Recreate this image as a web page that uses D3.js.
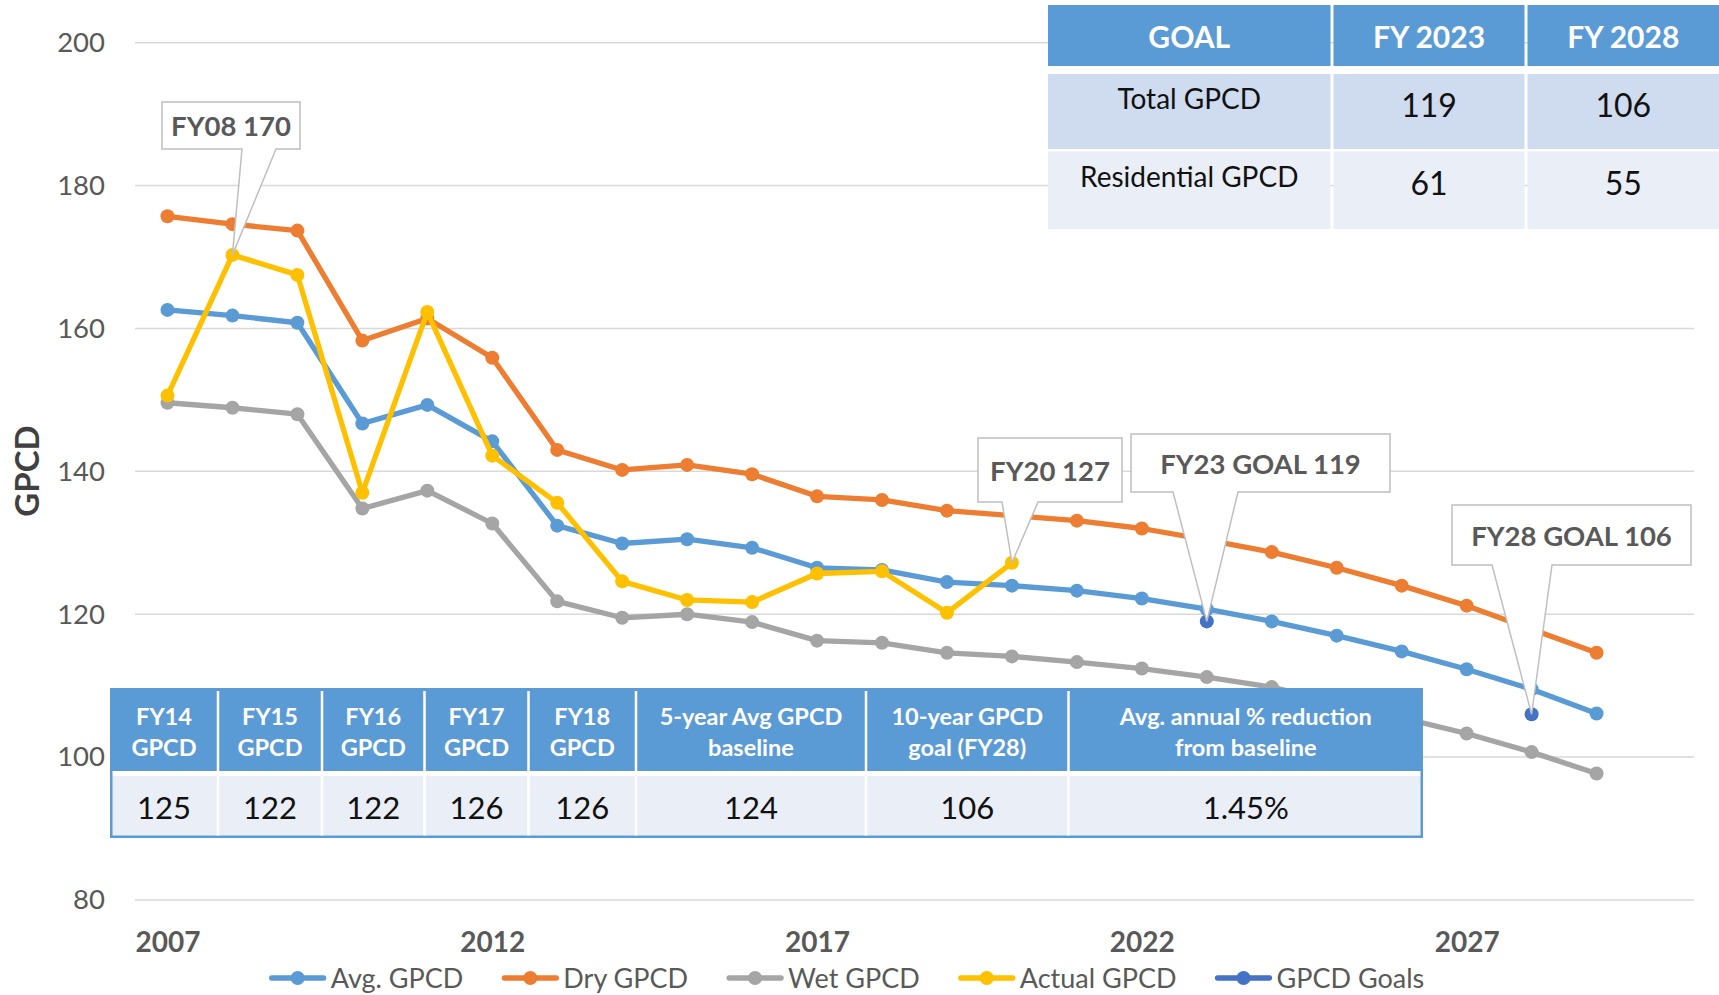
<!DOCTYPE html>
<html>
<head>
<meta charset="utf-8">
<script src="https://cdn.jsdelivr.net/npm/d3@7"></script>
<style>
  body { margin: 0; background: #fff; }
  svg { display: block; font-family: Lato, 'Open Sans', sans-serif; }
</style>
</head>
<body>
<svg id="chart" width="1719" height="995"></svg>
<script>
//
// Data
//

// categories (2030 is an empty slot at the end of the axis)
var years = d3.range(2007, 2031)
var xLabels = [2007, 2012, 2017, 2022, 2027]
var yTicks = [80, 100, 120, 140, 160, 180, 200]

// series, one value per year from 2007
var avgGpcd = [162.6, 161.8, 160.8, 146.7, 149.3, 144.2, 132.4, 129.9, 130.5, 129.3, 126.5, 126.2,
  124.5, 124.0, 123.3, 122.2, 120.7, 119.0, 117.0, 114.8, 112.3, 109.5, 106.1]
var dryGpcd = [175.7, 174.6, 173.7, 158.3, 161.4, 155.9, 143.0, 140.2, 140.9, 139.6, 136.5, 136.0,
  134.5, 133.8, 133.1, 132.0, 130.4, 128.7, 126.5, 124.0, 121.2, 117.9, 114.6]
var wetGpcd = [149.6, 148.9, 148.0, 134.8, 137.3, 132.7, 121.8, 119.5, 120.0, 118.9, 116.3, 116.0,
  114.6, 114.1, 113.3, 112.4, 111.2, 109.8, 107.6, 105.5, 103.3, 100.7, 97.7]
var actualGpcd = [150.6, 170.3, 167.5, 137.0, 162.3, 142.2, 135.6, 124.6, 122.0, 121.7, 125.7, 126.0,
  120.2, 127.2]
var goalYears = [2023, 2028]
var goalValues = [119, 106]

var seriesNames = ['Avg. GPCD', 'Dry GPCD', 'Wet GPCD', 'Actual GPCD', 'GPCD Goals']
var seriesColors = ['#5b9bd5', '#ed7d31', '#a5a5a5', '#ffc000', '#4472c4']

// callouts
var calloutLabels = ['FY08 170', 'FY20 127', 'FY23 GOAL 119', 'FY28 GOAL 106']
var calloutYears = [2008, 2020, 2023, 2028]
var calloutValues = [170.3, 127.2, 119, 106]

// goal table (top right)
var goalHead = ['GOAL', 'FY 2023', 'FY 2028']
var goalRows = [['Total GPCD', '119', '106'], ['Residential GPCD', '61', '55']]

// baseline table (bottom)
var baseHead = [['FY14', 'GPCD'], ['FY15', 'GPCD'], ['FY16', 'GPCD'], ['FY17', 'GPCD'], ['FY18', 'GPCD'],
  ['5-year Avg GPCD', 'baseline'], ['10-year GPCD', 'goal (FY28)'], ['Avg. annual % reduction', 'from baseline']]
var baseValues = ['125', '122', '122', '126', '126', '124', '106', '1.45%']

//
// Layout
//

var plot = { left: 135, right: 1694, top: 42.7, bottom: 900 }
var textGray = '#595959'
var gridColor = '#d9d9d9'
var headBlue = '#5b9bd5'
var lineWidth = 5.3
var markerR = 7

// callout boxes: [x0, y0, x1, y1, wedge left, wedge right]
var calloutBoxes = [
  [162, 102, 300, 149, 242, 276],
  [978, 438, 1122, 502, 1002, 1038],
  [1131, 434, 1390, 492, 1173, 1238],
  [1452, 505, 1691, 565, 1492, 1552]
]

var goalCols = [1048, 1332, 1526, 1722]
var goalRowEdges = [[5, 66], [74, 149], [151.5, 229]]

var baseCols = [110, 218, 322, 424.5, 528.5, 636, 866, 1068.5, 1423]
var baseTop = 688, baseHeadBottom = 771, baseBodyTop = 776, baseBottom = 838

//
// Scales
//

var svg = d3.select('#chart')

var x = d3.scalePoint().domain(years).range([plot.left, plot.right]).padding(0.5)
var y = d3.scaleLinear().domain([80, 200]).range([plot.bottom, plot.top])

function toPoints(values) {
  return values.map(function (v, i) { return { year: years[i], v: v } })
}

var series = [
  toPoints(avgGpcd),
  toPoints(dryGpcd),
  toPoints(wetGpcd),
  toPoints(actualGpcd),
  goalYears.map(function (yr, i) { return { year: yr, v: goalValues[i] } })
]

//
// Grid
//

svg.append('g')
  .selectAll('line')
  .data(yTicks)
  .join('line')
  .attr('x1', plot.left)
  .attr('x2', plot.right)
  .attr('y1', function (d) { return y(d) })
  .attr('y2', function (d) { return y(d) })
  .attr('stroke', gridColor)
  .attr('stroke-width', 1.5)

//
// Series
//

var line = d3.line()
  .defined(function (d) { return d.v != null })
  .x(function (d) { return x(d.year) })
  .y(function (d) { return y(d.v) })

series.forEach(function (pts, i) {
  var g = svg.append('g')
  if (i < 4) {
    g.append('path')
      .attr('d', line(pts))
      .attr('fill', 'none')
      .attr('stroke', seriesColors[i])
      .attr('stroke-width', lineWidth)
      .attr('stroke-linejoin', 'round')
  }
  g.selectAll('circle')
    .data(pts)
    .join('circle')
    .attr('cx', function (d) { return x(d.year) })
    .attr('cy', function (d) { return y(d.v) })
    .attr('r', markerR)
    .attr('fill', seriesColors[i])
})

//
// Callouts
//

calloutLabels.forEach(function (label, i) {
  var b = calloutBoxes[i]
  var tx = x(calloutYears[i]), ty = y(calloutValues[i])
  var d = 'M' + b[0] + ',' + b[1] + 'H' + b[2] + 'V' + b[3] + 'H' + b[5] +
    'L' + tx + ',' + ty + 'L' + b[4] + ',' + b[3] + 'H' + b[0] + 'Z'
  svg.append('path')
    .attr('d', d)
    .attr('fill', '#fff')
    .attr('stroke', '#bfbfbf')
    .attr('stroke-width', 1.5)
  svg.append('text')
    .attr('x', (b[0] + b[2]) / 2)
    .attr('y', (b[1] + b[3]) / 2 + 1)
    .attr('dy', '0.36em')
    .attr('text-anchor', 'middle')
    .attr('font-size', 27.5)
    .attr('font-weight', 700)
    .attr('fill', textGray)
    .text(label)
})

//
// Goal table
//

var goalG = svg.append('g')
goalRowEdges.forEach(function (r, ri) {
  goalHead.forEach(function (h, ci) {
    var x0 = goalCols[ci] + (ci ? 1.5 : 0), x1 = goalCols[ci + 1] - 1.5
    goalG.append('rect')
      .attr('x', x0).attr('y', r[0])
      .attr('width', x1 - x0).attr('height', r[1] - r[0])
      .attr('fill', ri === 0 ? headBlue : (ri === 1 ? '#cfdbee' : '#e9eef7'))
    var txt = ri === 0 ? h : goalRows[ri - 1][ci]
    var isNum = ri > 0 && ci > 0
    goalG.append('text')
      .attr('x', (x0 + Math.min(x1, 1719)) / 2)
      .attr('y', ri === 0 ? 37.5 : r[0] + (isNum ? 31.5 : 25))
      .attr('dy', '0.36em')
      .attr('text-anchor', 'middle')
      .attr('font-size', ri === 0 ? 30 : (isNum ? 32 : 28))
      .attr('font-weight', ri === 0 ? 700 : 400)
      .attr('fill', ri === 0 ? '#fff' : '#111')
      .text(txt)
  })
})

//
// Baseline table
//

var baseG = svg.append('g')
var bl = baseCols[0], br = baseCols[baseCols.length - 1]
baseG.append('rect')
  .attr('x', bl).attr('y', baseTop)
  .attr('width', br - bl).attr('height', baseBottom - baseTop)
  .attr('fill', headBlue)
baseG.append('rect')
  .attr('x', bl + 2.5).attr('y', baseHeadBottom)
  .attr('width', br - bl - 5).attr('height', baseBodyTop - baseHeadBottom)
  .attr('fill', '#fff')
baseG.append('rect')
  .attr('x', bl + 2.5).attr('y', baseBodyTop)
  .attr('width', br - bl - 5).attr('height', baseBottom - 2.5 - baseBodyTop)
  .attr('fill', '#e9eef7')
baseG.selectAll('line')
  .data(baseCols.slice(1, -1))
  .join('line')
  .attr('x1', function (d) { return d }).attr('x2', function (d) { return d })
  .attr('y1', baseTop + 3).attr('y2', baseBottom - 2.5)
  .attr('stroke', '#fff')
  .attr('stroke-width', 2.5)

baseHead.forEach(function (lines, i) {
  var cx = (baseCols[i] + baseCols[i + 1]) / 2
  lines.forEach(function (t, li) {
    baseG.append('text')
      .attr('x', cx)
      .attr('y', 717 + li * 31)
      .attr('dy', '0.36em')
      .attr('text-anchor', 'middle')
      .attr('font-size', 23.5)
      .attr('font-weight', 700)
      .attr('fill', '#fff')
      .text(t)
  })
  baseG.append('text')
    .attr('x', cx)
    .attr('y', 808)
    .attr('dy', '0.36em')
    .attr('text-anchor', 'middle')
    .attr('font-size', 31)
    .attr('fill', '#111')
    .text(baseValues[i])
})

//
// Axes
//

var yAxis = svg.append('g')
  .attr('transform', 'translate(' + plot.left + ',0)')
  .call(d3.axisLeft(y).tickValues(yTicks).tickSize(0).tickPadding(30))
yAxis.select('.domain').remove()
yAxis.selectAll('text')
  .attr('font-family', 'Lato, sans-serif')
  .attr('font-size', 27.5)
  .attr('fill', textGray)

var xAxis = svg.append('g')
  .attr('transform', 'translate(0,' + plot.bottom + ')')
  .call(d3.axisBottom(x).tickValues(xLabels).tickSize(0).tickPadding(32))
xAxis.select('.domain').remove()
xAxis.selectAll('text')
  .attr('font-family', 'Lato, sans-serif')
  .attr('font-size', 28)
  .attr('font-weight', 700)
  .attr('fill', textGray)

svg.append('text')
  .attr('transform', 'translate(27,471) rotate(-90)')
  .attr('dy', '0.36em')
  .attr('text-anchor', 'middle')
  .attr('font-size', 33)
  .attr('font-weight', 700)
  .attr('fill', '#404040')
  .text('GPCD')

//
// Legend
//

var legend = svg.append('g')
var lx = 0
seriesNames.forEach(function (name, i) {
  var item = legend.append('g').attr('transform', 'translate(' + lx + ',0)')
  item.append('line')
    .attr('x1', 0).attr('x2', 52)
    .attr('stroke', seriesColors[i])
    .attr('stroke-width', lineWidth)
    .attr('stroke-linecap', 'round')
  item.append('circle')
    .attr('cx', 26).attr('r', markerR)
    .attr('fill', seriesColors[i])
  var t = item.append('text')
    .attr('x', 59)
    .attr('dy', '0.36em')
    .attr('font-size', 27)
    .attr('fill', textGray)
    .text(name)
  lx += 59 + t.node().getComputedTextLength() + 41
})
var legendWidth = lx - 41
legend.attr('transform', 'translate(' + (848 - legendWidth / 2) + ',978)')
</script>
</body>
</html>
